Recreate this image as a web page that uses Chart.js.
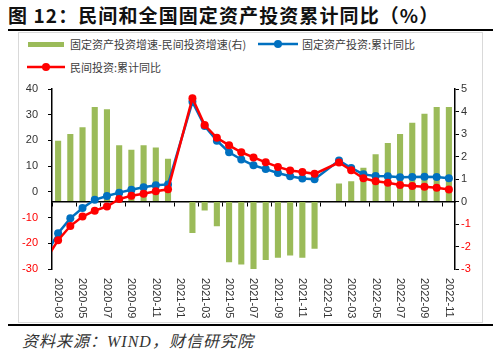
<!DOCTYPE html>
<html>
<head>
<meta charset="utf-8">
<script src="https://cdn.jsdelivr.net/npm/chart.js@4/dist/chart.umd.min.js"></script>
<style>
  body { margin: 0; width: 500px; height: 353px; background: #fff; position: relative; overflow: hidden;
         font-family: "Noto Sans CJK SC", sans-serif; }
  .title { position: absolute; left: 8px; top: 1px; font-size: 19px; font-weight: bold; color: #111; letter-spacing: 1.1px; white-space: nowrap; }
  .rule { position: absolute; left: 8px; width: 485px; height: 2px; background: #000; }
  .panel { position: absolute; left: 18px; top: 32px; width: 463px; height: 289px; border: 1px solid #d9d9d9; }
  .lg { position: absolute; font-size: 11px; color: #404040; white-space: nowrap; line-height: 14px; }
  .sym { position: absolute; }
  .src { position: absolute; left: 22px; top: 328px; font-size: 16px; font-style: italic; color: #333; letter-spacing: 1px;
         font-family: "Liberation Serif", "Noto Sans CJK SC", serif; white-space: nowrap; }
  #wrap { position: absolute; left: 18px; top: 78px; width: 464px; height: 244px; }
</style>
</head>
<body>
<div class="title">图 12：民间和全国固定资产投资累计同比（%）</div>
<div class="rule" style="top:29px"></div>
<div class="panel"></div>

<div class="sym" style="left:28px;top:42px;width:36px;height:5px;background:#9BBB59"></div>
<div class="lg" style="left:70px;top:37px">固定资产投资增速-民间投资增速(右)</div>
<svg class="sym" style="left:258px;top:38px" width="40" height="12"><line x1="0" y1="6" x2="40" y2="6" stroke="#0070C0" stroke-width="2.5"/><circle cx="20" cy="6" r="4" fill="#0070C0"/></svg>
<div class="lg" style="left:302px;top:37px">固定资产投资:累计同比</div>
<svg class="sym" style="left:27px;top:61px" width="38" height="12"><line x1="0" y1="6" x2="38" y2="6" stroke="#FF0000" stroke-width="2.5"/><circle cx="19" cy="6" r="4" fill="#FF0000"/></svg>
<div class="lg" style="left:70px;top:60px">民间投资:累计同比</div>

<div id="wrap"><canvas id="chart" width="464" height="244"></canvas></div>
<div class="rule" style="top:324px"></div>
<div class="src">资料来源：WIND，财信研究院</div>

<script>
// months on the category axis (2020-02 sits just left of the visible range)
const months = [
  '2020-02', '2020-03', '2020-04', '2020-05', '2020-06', '2020-07', '2020-08', '2020-09', '2020-10', '2020-11', '2020-12',
  '2021-01', '2021-02', '2021-03', '2021-04', '2021-05', '2021-06', '2021-07', '2021-08', '2021-09', '2021-10', '2021-11', '2021-12',
  '2022-01', '2022-02', '2022-03', '2022-04', '2022-05', '2022-06', '2022-07', '2022-08', '2022-09', '2022-10', '2022-11'
];
const tickLabels = [
  '2020-03', '2020-05', '2020-07', '2020-09', '2020-11', '2021-01', '2021-03', '2021-05', '2021-07',
  '2021-09', '2021-11', '2022-01', '2022-03', '2022-05', '2022-07', '2022-09', '2022-11'
];

// 固定资产投资:累计同比 (left axis)
const faiYoy = [
  -24.5, -16.1, -10.3, -6.3, -3.1, -1.6, -0.3, 0.8, 1.8, 2.6, 2.9,
  null, 35.0, 25.6, 19.9, 15.4, 12.6, 10.3, 8.9, 7.3, 6.1, 5.2, 4.9,
  null, 12.2, 9.3, 6.8, 6.2, 6.1, 5.7, 5.8, 5.9, 5.8, 5.3
];
// 民间投资:累计同比 (left axis)
const privateYoy = [
  -26.4, -18.8, -13.3, -9.6, -7.3, -5.7, -2.8, -1.5, -0.7, 0.2, 1.0,
  null, 36.4, 26.0, 21.0, 18.1, 15.4, 13.4, 11.5, 9.7, 8.3, 7.7, 7.0,
  null, 11.4, 8.4, 5.3, 4.1, 3.5, 2.7, 2.3, 2.0, 1.6, 0.9
];
// 固定资产投资增速-民间投资增速 (right axis)
const gapBars = [
  null, 2.7, 3.0, 3.3, 4.2, 4.1, 2.5, 2.3, 2.5, 2.4, 1.9,
  null, -1.4, -0.4, -1.1, -2.7, -2.8, -3.1, -2.6, -2.5, -2.4, -2.5, -2.1,
  null, 0.8, 0.9, 1.5, 2.1, 2.6, 3.0, 3.5, 3.9, 4.2, 4.2
];

const AXIS_FONT = { family: '"Liberation Sans", Arial, sans-serif', size: 11 };
const tickColor = c => c.tick && c.tick.value < 0 ? '#FF0000' : '#333';

// x labels read top-to-bottom, so draw them by hand at the scale's positions
const xLabelPlugin = {
  id: 'xLabels',
  afterDraw(chart) {
    const { ctx, chartArea, scales: { x } } = chart;
    ctx.save();
    ctx.font = '11px "Liberation Sans", Arial, sans-serif';
    ctx.fillStyle = '#333';
    ctx.textAlign = 'left';
    ctx.textBaseline = 'middle';
    tickLabels.forEach(lab => {
      const px = x.getPixelForValue(months.indexOf(lab));
      ctx.save();
      ctx.translate(px, chartArea.bottom + 9);
      ctx.rotate(Math.PI / 2);
      ctx.fillText(lab, 0, 0);
      ctx.restore();
    });
    ctx.restore();
  }
};

new Chart(document.getElementById('chart'), {
  data: {
    labels: months,
    datasets: [
      {
        type: 'line', label: '民间投资:累计同比', data: privateYoy, yAxisID: 'y', order: 1,
        borderColor: '#FF0000', backgroundColor: '#FF0000', borderWidth: 2.5,
        pointRadius: 4, pointBorderWidth: 0, spanGaps: true, tension: 0
      },
      {
        type: 'line', label: '固定资产投资:累计同比', data: faiYoy, yAxisID: 'y', order: 2,
        borderColor: '#0070C0', backgroundColor: '#0070C0', borderWidth: 2.5,
        pointRadius: 4, pointBorderWidth: 0, spanGaps: true, tension: 0
      },
      {
        type: 'bar', label: '固定资产投资增速-民间投资增速(右)', data: gapBars, yAxisID: 'y1', order: 3,
        backgroundColor: '#9BBB59', barPercentage: 0.5, categoryPercentage: 1
      }
    ]
  },
  options: {
    responsive: false,
    animation: false,
    layout: { padding: { top: 11, left: 0, right: 0, bottom: 0 } },
    plugins: { legend: { display: false }, tooltip: { enabled: false } },
    scales: {
      x: {
        type: 'category', min: '2020-03', offset: true,
        grid: { display: false, offset: true }, border: { display: false },
        ticks: { display: false },
        afterFit: s => { s.height = 53; }
      },
      x2: {
        type: 'category', labels: months, min: '2020-03', offset: true,
        position: { y1: 0 },
        grid: {
          offset: true, drawOnChartArea: false, drawTicks: true, tickLength: 4, lineWidth: 1,
          tickColor: c => c.index % 2 === 0 ? '#000' : 'rgba(0,0,0,0)'
        },
        border: { color: '#000', width: 1.5 },
        ticks: { display: false }
      },
      y: {
        position: 'left', min: -30, max: 40,
        ticks: { stepSize: 10, font: AXIS_FONT, color: tickColor, padding: 10 },
        grid: { drawOnChartArea: false, tickLength: 4, tickColor: '#000' },
        border: { color: '#000', width: 1.5 },
        afterFit: s => { s.width = 34; s.paddingTop = 0; s.paddingBottom = 0; }
      },
      y1: {
        position: 'right', min: -3, max: 5,
        ticks: { stepSize: 1, font: AXIS_FONT, color: tickColor, padding: 2 },
        grid: { drawOnChartArea: false, tickLength: 4, tickColor: '#000' },
        border: { color: '#000', width: 1.5 },
        afterFit: s => { s.width = 27; s.paddingTop = 0; s.paddingBottom = 0; }
      }
    }
  },
  plugins: [xLabelPlugin]
});
</script>
</body>
</html>
